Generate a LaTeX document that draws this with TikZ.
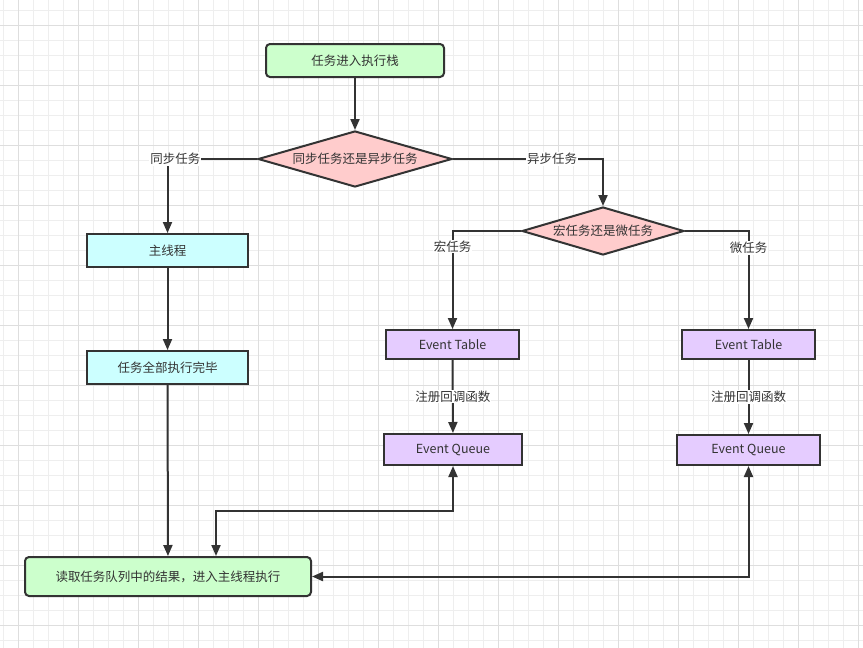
\documentclass[tikz,border=0pt]{standalone}
\usepackage{fontspec}
\setmainfont{Noto Sans CJK SC}
\usepackage{xcolor}
\usepackage{tikz}
\usetikzlibrary{positioning}
\usetikzlibrary{calc}
\usetikzlibrary{arrows.meta}
\usetikzlibrary{shapes.geometric}
\usetikzlibrary{backgrounds}

\definecolor{okgreen}{HTML}{CCFFCC}
\definecolor{askpink}{HTML}{FFCCCC}
\definecolor{thcyan}{HTML}{CCFFFF}
\definecolor{evpurple}{HTML}{E5CCFF}
\definecolor{inkgray}{HTML}{333333}
\definecolor{gridminor}{HTML}{EEEEEE}
\definecolor{gridmajor}{HTML}{DEDEDE}

\begin{document}
\begin{tikzpicture}[
    x=1pt, y=-1pt,              % pixel-like coordinates, top-down
    font=\fontsize{12.5}{15}\selectfont,
    ]
% -------------------------------------------------
\tikzset{
  base/.style={draw=inkgray, line width=2pt, align=center, text=inkgray, inner sep=0pt},
  proc/.style={base, rectangle, minimum height=33pt, minimum width=161pt},
  term/.style={base, rectangle, rounded corners=4pt, fill=okgreen},
  ask/.style={base, diamond, fill=askpink},
  evbox/.style={base, rectangle, fill=evpurple},
  lbl/.style={fill=white, text=inkgray, inner sep=1pt},
  line/.style={draw=inkgray, line width=2pt, -{Triangle[length=11pt, width=9pt]}},
  dline/.style={line, {Triangle[length=11pt, width=9pt]}-{Triangle[length=11pt, width=9pt]}}
}

\useasboundingbox (0,0) rectangle (863,648);
\fill[white] (0,0) rectangle (863,648);
% grid paper
\foreach \x in {3.3,18.3,...,863} \draw[gridminor, line width=1pt] (\x,0) -- (\x,648);
\foreach \y in {10,25,...,648} \draw[gridminor, line width=1pt] (0,\y) -- (863,\y);
\foreach \x in {18.3,78.3,...,863} \draw[gridmajor, line width=1pt] (\x,0) -- (\x,648);
\foreach \y in {25,85,...,648} \draw[gridmajor, line width=1pt] (0,\y) -- (863,\y);

% nodes
\node [term, minimum width=178pt, minimum height=33pt] (start) at (355,60.5) {任务进入执行栈};
\node [ask, aspect=3.46, minimum width=194pt, minimum height=56pt] (kind) at (355,159) {同步任务还是异步任务};

\node [proc, fill=thcyan] (mainth) at (167.5,250.5) {主线程};
\node [proc, fill=thcyan, below=82pt of mainth] (alldone) {任务全部执行完毕};

\node [ask, aspect=3.375, minimum width=162pt, minimum height=48pt] (macro) at (603,231) {宏任务还是微任务};

\node [evbox, minimum width=133pt, minimum height=29pt] (tab1) at (452.5,344.5) {Event Table};
\node [evbox, minimum width=138pt, minimum height=31pt] (que1) at (453,449.5) {Event Queue};
\node [evbox, minimum width=133pt, minimum height=29pt] (tab2) at (748.5,344.5) {Event Table};
\node [evbox, minimum width=143pt, minimum height=30pt] (que2) at (748.5,450) {Event Queue};

\node [term, minimum width=286pt, minimum height=39pt] (readq) at (168,576.5) {读取任务队列中的结果，进入主线程执行};

\coordinate (back1) at (216,511);

% connectors
\path [line] (start) -- (kind);
\path [line] (kind.west) -| (mainth.north) node [lbl, pos=0.456] {同步任务};
\path [line] (mainth) -- (alldone);
\path [line] (alldone) -- (readq);
\path [line] (kind.east) -| (macro.north) node [lbl, pos=0.33] {异步任务};
\path [line] (macro.west) -| (tab1.north) node [lbl, pos=0.58] {宏任务};
\path [line] (macro.east) -| (tab2.north) node [lbl, pos=0.586] {微任务};
\path [line] (tab1) -- (que1) node [lbl, midway] {注册回调函数};
\path [line] (tab2) -- (que2) node [lbl, midway] {注册回调函数};
\path [dline] (readq.north -| back1) -- (back1) -| (que1.south);
\path [dline] (que2.south) |- (readq.east);

\end{tikzpicture}
\end{document}
